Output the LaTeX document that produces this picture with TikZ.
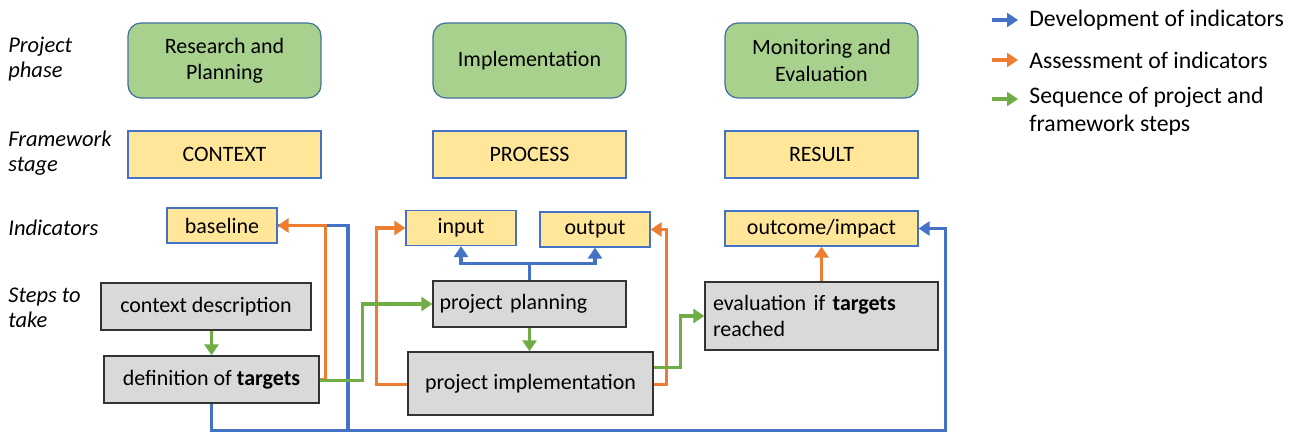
\documentclass[tikz,border=0pt]{standalone}
\usepackage{fontspec}
\setmainfont{Carlito}
\usetikzlibrary{arrows.meta,positioning,calc}
\definecolor{devblue}{HTML}{4472C4}
\definecolor{assorange}{HTML}{ED7D31}
\definecolor{seqgreen}{HTML}{70AD47}
\definecolor{phasefill}{HTML}{A9D18E}
\definecolor{stagefill}{HTML}{FFE699}
\definecolor{stepfill}{HTML}{D9D9D9}
\definecolor{boxline}{HTML}{41719C}
\tikzset{
    phase/.style={rectangle, draw=boxline, fill=phasefill, rounded corners=0.26cm, minimum width=3.86cm, minimum height=1.5cm, align=center, font=\fontsize{12.5}{15}\selectfont, line width=0.7pt},
    stage/.style={rectangle, draw=devblue, fill=stagefill, minimum width=3.86cm, minimum height=0.94cm, align=center, font=\fontsize{12.5}{14}\selectfont, line width=0.7pt},
    indicator/.style={rectangle, draw=devblue, fill=stagefill, minimum width=2.2cm, minimum height=0.7cm, font=\fontsize{12.5}{14}\selectfont, line width=0.7pt},
    stepbox/.style={rectangle, draw=black!80, fill=stepfill, minimum height=0.94cm, font=\fontsize{12.5}{15}\selectfont, line width=0.8pt},
    rowlabel/.style={anchor=west, align=left, inner sep=0pt, font=\fontsize{12.8}{14}\selectfont\itshape},
    legendtext/.style={anchor=west, align=left, inner sep=0pt, font=\fontsize{13.5}{16}\selectfont},
    tip/.style={-{Triangle[length=2.2mm, width=2.8mm]}},
    devline/.style={draw=devblue, line width=2pt},
    assline/.style={draw=assorange, line width=2pt},
    seqline/.style={draw=seqgreen, line width=2pt}
}
\begin{document}
\begin{tikzpicture}[x=0.02cm, y=-0.02cm]
    \useasboundingbox (0,0) rectangle (1293,432);

    % row labels
    \node [rowlabel] (lblphase) at (8,59) {Project\\phase};
    \node [rowlabel] (lblstage) at (8,153) {Framework\\stage};
    \node [rowlabel] (lblind) at (8,228) {Indicators};
    \node [rowlabel] (lblsteps) at (8,308) {Steps to\\take};

    % project phases
    \node [phase] (research) at (224.5,60.5) {Research and\\Planning};
    \node [phase] (implphase) at (529.5,60.5) {Implementation};
    \node [phase] (monitoring) at (821.5,60.5) {Monitoring and\\Evaluation};

    % framework stages
    \node [stage] (context) at (224.5,154.5) {CONTEXT};
    \node [stage] (process) at (529.5,154.5) {PROCESS};
    \node [stage] (result) at (821.5,154.5) {RESULT};

    % indicators
    \node [indicator] (baseline) at (222,225.5) {baseline};
    \node [indicator] (input) at (461,228) {input};
    \node [indicator] (output) at (595,229.5) {output};
    \node [indicator, minimum width=3.86cm] (outcome) at (821.5,228.5) {outcome/impact};

    % steps
    \node [stepbox, minimum width=4.2cm] (contextdesc) at (206,306.5) {context description};
    \node [stepbox, minimum width=4.3cm] (targets) at (211.5,379.5) {definition of \textbf{targets}};
    \node [stepbox, minimum width=3.86cm, minimum height=0.92cm, text width=3.6cm, align=left] (planning) at (529.5,304) {project planning};
    \node [stepbox, minimum width=4.9cm, minimum height=1.26cm] (implementation) at (530.5,383.5) {project implementation};
    \node [stepbox, minimum width=4.66cm, minimum height=1.36cm, text width=4.34cm, align=left] (evaluation) at (821.5,316) {evaluation if \textbf{targets}\\reached};

    % development of indicators
    \path [devline, tip] (planning.north) -- ++(0,-17) coordinate (fork) -| (input.south);
    \path [devline, tip] (fork) -| (output.south);
    \path [devline, tip] (targets.south) -- ++(0,27) -| ([xshift=0.54cm]outcome.east) -- (outcome.east);
    \coordinate (railbase) at (348,430);
    \path [devline] (railbase) |- (baseline.east);

    % assessment of indicators
    \path [assline, tip] (targets.east) -- ++(6,0) |- (baseline.east);
    \path [assline, tip] ($(implementation.west)+(0,1)$) -- ++(-31,0) |- (input.west);
    \path [assline, tip] ($(implementation.east)+(0,1)$) -- ++(13,0) |- (output.east);
    \path [assline, tip] (evaluation.north) -- (outcome.south);

    % sequence of steps
    \path [seqline, tip] (contextdesc.south -| targets) -- (targets.north);
    \path [seqline, tip] ($(targets.east)+(0,1)$) -- ++(43,0) |- (planning.west);
    \path [seqline, tip] (planning.south) -- (planning.south |- implementation.north);
    \path [seqline, tip] ($(implementation.east)+(0,-16)$) -- ++(27,0) |- (evaluation.west);

    % legend
    \node [legendtext] (legdev) at (1029,20) {Development of indicators};
    \node [legendtext] (legass) at (1029,60) {Assessment of indicators};
    \node [legendtext, anchor=north west] (legseq) at (1029,87) {Sequence of project and\\framework steps};
    \coordinate (keydev) at (992,20);
    \coordinate (keyass) at (992,60);
    \coordinate (keyseq) at (992,99);
    \path [devline, tip] (keydev) -- ([xshift=-0.22cm]legdev.west);
    \path [assline, tip] (keyass) -- ([xshift=-0.22cm]legass.west);
    \path [seqline, tip] (keyseq) -- ([xshift=-0.22cm]keyseq -| legseq.west);
\end{tikzpicture}
\end{document}
